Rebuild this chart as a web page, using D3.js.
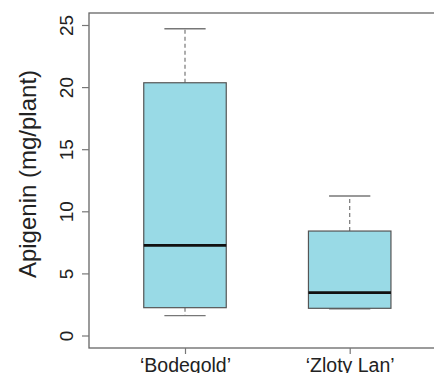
<!DOCTYPE html>
<html>
<head>
<meta charset="utf-8">
<script src="https://cdn.jsdelivr.net/npm/d3@7"></script>
<style>
  body { margin: 0; background: #fff; }
  svg { display: block; font-family: "Liberation Sans", Arial, sans-serif; }
</style>
</head>
<body>
<div id="chart"></div>
<script>
// cultivars and their box stats
var cultivars = ["\u2018Bodegold\u2019", "\u2018Zloty Lan\u2019"];
var whiskerLow = [1.6, 2.15];
var q1 = [2.24, 2.19];
var median = [7.26, 3.45];
var q3 = [20.35, 8.41];
var whiskerHigh = [24.7, 11.23];
var yTicks = [0, 5, 10, 15, 20, 25];

var width = 434, height = 373;
var margin = {top: 13, right: -40, bottom: 25, left: 89};
var plotW = width - margin.left - margin.right,
  plotH = height - margin.top - margin.bottom;

var svg = d3.select("#chart")
  .append("svg")
  .attr("width", width)
  .attr("height", height);

var g = svg.append("g")
  .attr("transform", "translate(" + margin.left + "," + margin.top + ")");

// y scale: 0 at 322.5, 25 at 12 (relative to plot)
var y = d3.scaleLinear()
  .domain([0, 25])
  .range([322.5, 12]);

var x = d3.scalePoint()
  .domain(cultivars)
  .range([96, 260.7]);

var boxW = 82.5;

var data = cultivars.map(function (c, i) {
  return {name: c, lo: whiskerLow[i], q1: q1[i], med: median[i], q3: q3[i], hi: whiskerHigh[i]};
});

// frame (right side falls off the picture)
g.append("rect")
  .attr("x", 0)
  .attr("y", 0)
  .attr("width", plotW)
  .attr("height", plotH)
  .attr("fill", "none")
  .attr("stroke", "#666")
  .attr("stroke-width", 1.3);

var boxes = g.selectAll(".box")
  .data(data)
  .enter().append("g")
  .attr("class", "box");

// whiskers
boxes.append("line")
  .attr("x1", function (d) { return x(d.name); })
  .attr("x2", function (d) { return x(d.name); })
  .attr("y1", function (d) { return y(d.q3); })
  .attr("y2", function (d) { return y(d.hi); })
  .attr("stroke", "#777")
  .attr("stroke-width", 1.2)
  .attr("stroke-dasharray", "4,3");
boxes.append("line")
  .attr("x1", function (d) { return x(d.name); })
  .attr("x2", function (d) { return x(d.name); })
  .attr("y1", function (d) { return y(d.q1); })
  .attr("y2", function (d) { return y(d.lo); })
  .attr("stroke", "#777")
  .attr("stroke-width", 1.2)
  .attr("stroke-dasharray", "4,3");

// caps
["hi", "lo"].forEach(function (k) {
  boxes.append("line")
    .attr("x1", function (d) { return x(d.name) - boxW / 4; })
    .attr("x2", function (d) { return x(d.name) + boxW / 4; })
    .attr("y1", function (d) { return y(d[k]); })
    .attr("y2", function (d) { return y(d[k]); })
    .attr("stroke", "#777")
    .attr("stroke-width", 1.3);
});

boxes.append("rect")
  .attr("x", function (d) { return x(d.name) - boxW / 2; })
  .attr("y", function (d) { return y(d.q3); })
  .attr("width", boxW)
  .attr("height", function (d) { return y(d.q1) - y(d.q3); })
  .attr("fill", "#99dae6")
  .attr("stroke", "#555")
  .attr("stroke-width", 1.2);

boxes.append("line")
  .attr("x1", function (d) { return x(d.name) - boxW / 2; })
  .attr("x2", function (d) { return x(d.name) + boxW / 2; })
  .attr("y1", function (d) { return y(d.med); })
  .attr("y2", function (d) { return y(d.med); })
  .attr("stroke", "#111")
  .attr("stroke-width", 2.6);

// y axis
var yAxis = g.append("g")
  .call(d3.axisLeft(y).tickValues(yTicks).tickSize(7).tickSizeOuter(0));
yAxis.select(".domain").remove();
yAxis.selectAll("line").attr("stroke", "#777").attr("stroke-width", 1.2);
yAxis.selectAll("text")
  .attr("transform", "rotate(-90)")
  .attr("x", 0)
  .attr("y", -16.5)
  .attr("dy", 0)
  .style("text-anchor", "middle")
  .style("font-size", "19px")
  .attr("fill", "#222");

// x axis
var xAxis = g.append("g")
  .attr("transform", "translate(0," + plotH + ")")
  .call(d3.axisBottom(x).tickSize(6).tickSizeOuter(0));
xAxis.select(".domain").remove();
xAxis.selectAll("line").attr("stroke", "#777").attr("stroke-width", 1.2);
xAxis.selectAll("text")
  .attr("y", 24.3)
  .attr("dy", 0)
  .style("font-size", "19.5px")
  .attr("fill", "#222");

svg.append("text")
  .attr("transform", "rotate(-90)")
  .attr("x", -174)
  .attr("y", 36)
  .style("text-anchor", "middle")
  .style("font-size", "24px")
  .attr("fill", "#222")
  .text("Apigenin (mg/plant)");
</script>
</body>
</html>
